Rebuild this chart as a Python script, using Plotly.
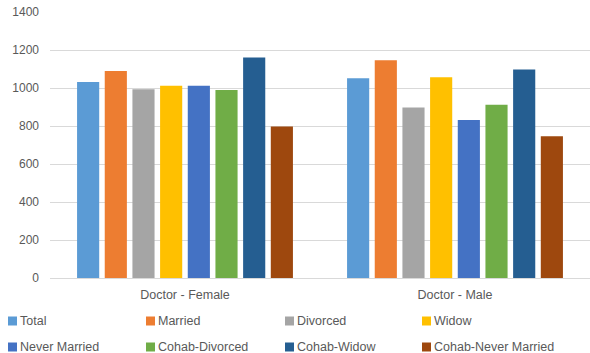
import plotly.graph_objects as go

# Mean values by marital status, for female and male doctors
categories = ["Doctor - Female", "Doctor - Male"]
series_names = ["Total", "Married", "Divorced", "Widow",
                "Never Married", "Cohab-Divorced", "Cohab-Widow", "Cohab-Never Married"]
values_female = [1031, 1089, 993, 1012, 1012, 989, 1161, 798]
values_male = [1051, 1146, 898, 1056, 832, 912, 1098, 746]
colors = ["#5B9BD5", "#ED7D31", "#A5A5A5", "#FFC000",
          "#4472C4", "#70AD47", "#255E91", "#9E480E"]
y_ticks = [0, 200, 400, 600, 800, 1000, 1200, 1400]

W, H = 590, 353
M_L, M_R, M_T, M_B = 50, 0, 12, 75
TEXT = "#595959"
FONT = "Liberation Sans, Arial, sans-serif"

fig = go.Figure()
for i, name in enumerate(series_names):
    fig.add_trace(go.Bar(
        name=name,
        x=categories,
        y=[values_female[i], values_male[i]],
        marker=dict(color=colors[i], line=dict(width=0)),
        showlegend=False,
    ))

# Legend drawn as small swatches + labels in a 4-column, 2-row grid
plot_w = W - M_L - M_R
plot_h = H - M_T - M_B
col_x = [8, 146, 285, 422]
row_y = [321, 347]
sw = 9
for i, name in enumerate(series_names):
    px = col_x[i % 4]
    py = row_y[i // 4]
    x0 = (px - M_L) / plot_w
    x1 = (px + sw - M_L) / plot_w
    y0 = (H - M_B - (py + sw / 2)) / plot_h
    y1 = (H - M_B - (py - sw / 2)) / plot_h
    fig.add_shape(type="rect", xref="paper", yref="paper",
                  x0=x0, x1=x1, y0=y0, y1=y1,
                  fillcolor=colors[i], line=dict(width=0))
    fig.add_annotation(xref="paper", yref="paper",
                       x=(px + sw + 1 - M_L) / plot_w,
                       y=(H - M_B - py) / plot_h,
                       text=name, showarrow=False,
                       xanchor="left", yanchor="middle",
                       font=dict(family=FONT, size=12.5, color=TEXT))

fig.update_layout(
    width=W, height=H,
    margin=dict(l=M_L, r=M_R, t=M_T, b=M_B),
    paper_bgcolor="white", plot_bgcolor="white",
    barmode="group", bargap=0.18, bargroupgap=0.2,
    font=dict(family=FONT, size=12, color=TEXT),
)
fig.update_yaxes(
    range=[0, 1400], tickvals=y_ticks,
    showgrid=True, gridcolor="#D9D9D9", gridwidth=1,
    zeroline=False, showline=False,
    tickfont=dict(family=FONT, size=12, color=TEXT),
    ticklabelstandoff=10,
)
fig.update_xaxes(
    showline=True, linecolor="#D9D9D9", linewidth=1,
    ticks="", tickfont=dict(family=FONT, size=12.5, color=TEXT),
    ticklabelstandoff=5,
)

fig.write_html("out.html")
